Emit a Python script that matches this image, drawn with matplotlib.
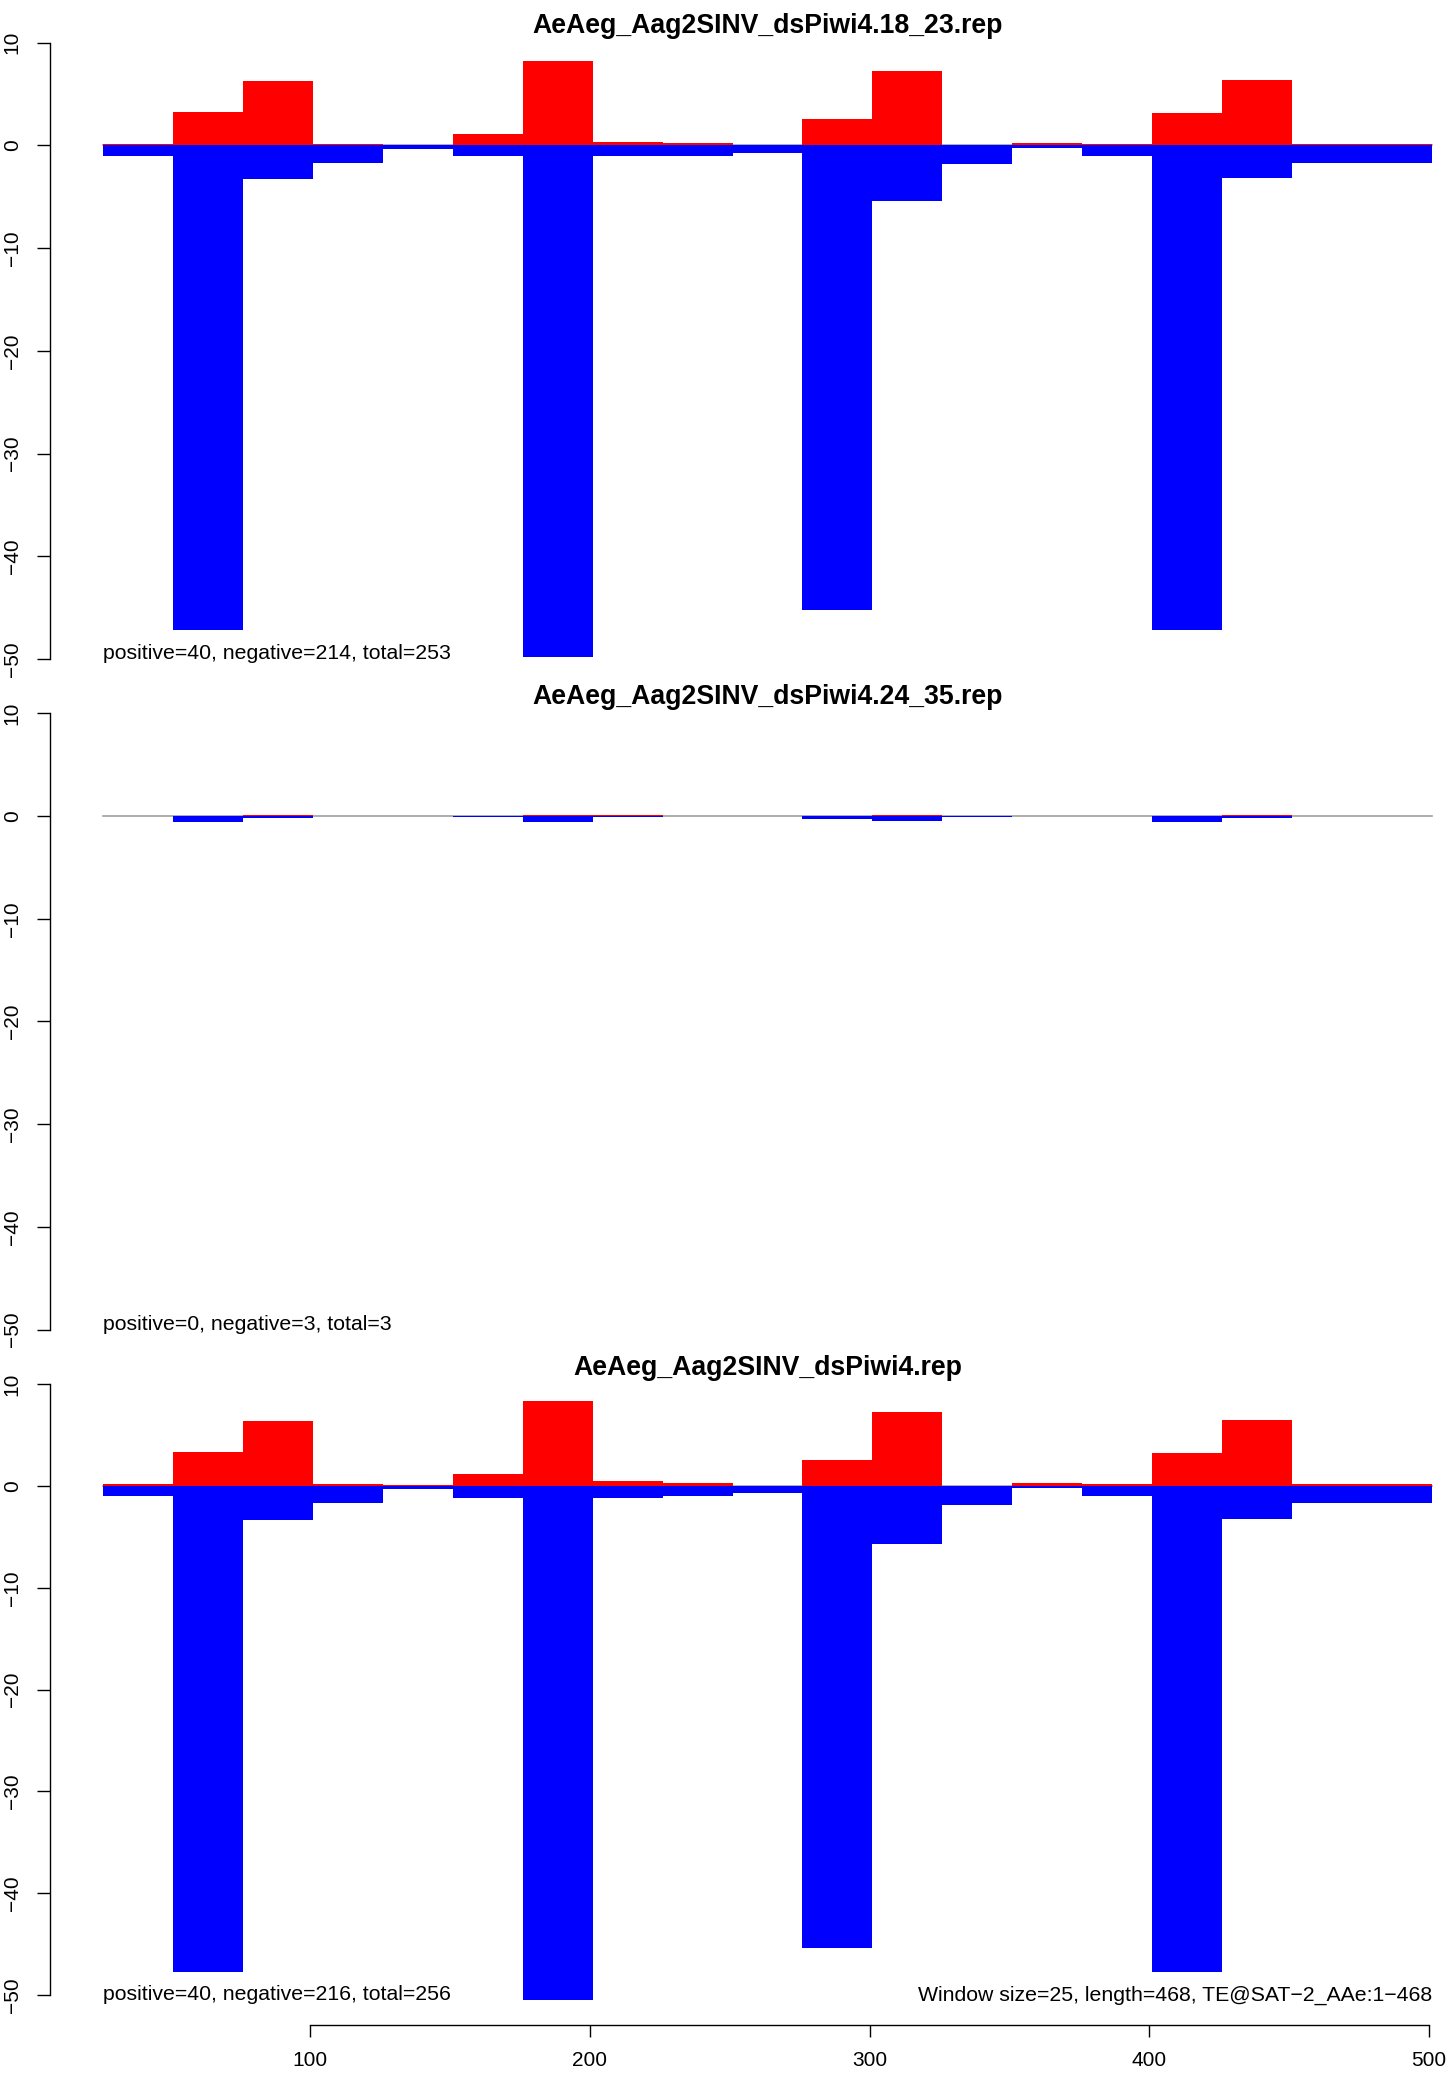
import matplotlib
matplotlib.use("Agg")
import matplotlib.pyplot as plt

plt.rcParams['font.family'] = ['Liberation Sans', 'DejaVu Sans']

# ---------------- data ----------------
window_starts = [26, 51, 76, 101, 126, 151, 176, 201, 226, 251,
                 276, 301, 326, 351, 376, 401, 426, 451, 476]
window_size = 25

titles = ["AeAeg_Aag2SINV_dsPiwi4.18_23.rep",
          "AeAeg_Aag2SINV_dsPiwi4.24_35.rep",
          "AeAeg_Aag2SINV_dsPiwi4.rep"]

pos_18_23 = [0.16, 3.28, 6.31, 0.16, 0.07, 1.14, 8.26, 0.36, 0.26, 0.0,
             2.54, 7.22, 0.0, 0.26, 0.16, 3.19, 6.41, 0.16, 0.16]
neg_18_23 = [-0.98, -47.2, -3.22, -1.69, -0.33, -1.07, -49.85, -1.07, -0.98, -0.72,
             -45.2, -5.4, -1.85, -0.2, -0.98, -47.2, -3.15, -1.7, -1.7]

pos_24_35 = [0.0, 0.0, 0.1, 0.0, 0.0, 0.0, 0.1, 0.1, 0.0, 0.0,
             0.0, 0.1, 0.0, 0.0, 0.0, 0.0, 0.1, 0.0, 0.0]
neg_24_35 = [0.0, -0.62, -0.23, 0.0, 0.0, -0.1, -0.62, -0.13, 0.0, 0.0,
             -0.33, -0.53, -0.1, 0.0, 0.0, -0.62, -0.23, 0.0, 0.0]

pos_all = [0.2, 3.37, 6.37, 0.2, 0.07, 1.18, 8.33, 0.49, 0.29, 0.0,
           2.58, 7.25, 0.0, 0.29, 0.2, 3.24, 6.47, 0.2, 0.2]
neg_all = [-0.98, -47.75, -3.33, -1.63, -0.3, -1.14, -50.5, -1.14, -0.98, -0.65,
           -45.4, -5.75, -1.86, -0.2, -0.98, -47.75, -3.24, -1.63, -1.63]

stats = ["positive=40, negative=214, total=253",
         "positive=0, negative=3, total=3",
         "positive=40, negative=216, total=256"]
footer = "Window size=25, length=468, TE@SAT\u22122_AAe:1\u2212468"

y_ticks = [-50, -40, -30, -20, -10, 0, 10]
x_ticks = [100, 200, 300, 400, 500]

panels = [(titles[0], pos_18_23, neg_18_23, stats[0]),
          (titles[1], pos_24_35, neg_24_35, stats[1]),
          (titles[2], pos_all, neg_all, stats[2])]

# ---------------- layout ----------------
W, H = 1450, 2073
DPI = 100
fig = plt.figure(figsize=(W / DPI, H / DPI), dpi=DPI)

ax_left_px = 50.2
ax_width_px = 1434.6
ax_height_px = 665.5
ax_tops_px = [18.1, 688.7, 1359.4]

def minus(v):
    return str(v).replace("-", "\u2212")

x_lo = window_starts[0]
x_hi = window_starts[-1] + window_size
x_pad = 0.04 * (x_hi - x_lo)

for i, (title, pos, neg, stat) in enumerate(panels):
    top = ax_tops_px[i]
    ax = fig.add_axes([ax_left_px / W, 1 - (top + ax_height_px) / H,
                       ax_width_px / W, ax_height_px / H])
    lo = min(-50, min(neg))
    hi = max(10, max(pos))
    pad = 0.04 * (hi - lo)
    ax.set_ylim(lo - pad, hi + pad)
    ax.set_xlim(x_lo - x_pad, x_hi + x_pad)

    ax.plot([x_lo, x_hi], [0, 0], color='#A0A0A0', lw=1.2, zorder=1)
    ax.bar(window_starts, pos, width=window_size, align='edge',
           color='#FF0000', linewidth=0, zorder=2)
    ax.bar(window_starts, neg, width=window_size, align='edge',
           color='#0000FF', linewidth=0, zorder=2)

    for s in ['top', 'right']:
        ax.spines[s].set_visible(False)
    ax.spines['left'].set_bounds(-50, 10)
    ax.spines['left'].set_linewidth(1.0)
    ax.set_yticks(y_ticks)
    ax.set_yticklabels([minus(t) for t in y_ticks], rotation=90, va='center')
    ax.tick_params(axis='y', length=9.4, width=1.0, pad=11, labelsize=15)

    if i == 2:
        ax.spines['bottom'].set_bounds(x_ticks[0], x_ticks[-1])
        ax.spines['bottom'].set_linewidth(1.0)
        ax.set_xticks(x_ticks)
        ax.set_xticklabels([str(t) for t in x_ticks])
        ax.tick_params(axis='x', length=8.9, width=1.0, pad=10, labelsize=15)
        ax.text(x_hi, lo, footer, ha='right', va='baseline', fontsize=15.3)
    else:
        ax.spines['bottom'].set_visible(False)
        ax.set_xticks([])

    ax.text(x_lo, lo, stat, ha='left', va='baseline', fontsize=15.3)
    ax.patch.set_visible(False)

    fig.text((ax_left_px + ax_width_px / 2) / W, 1 - (top + 15.2) / H, title,
             ha='center', va='baseline', fontsize=19.2, fontweight='bold')

fig.savefig("out.png", dpi=DPI)
